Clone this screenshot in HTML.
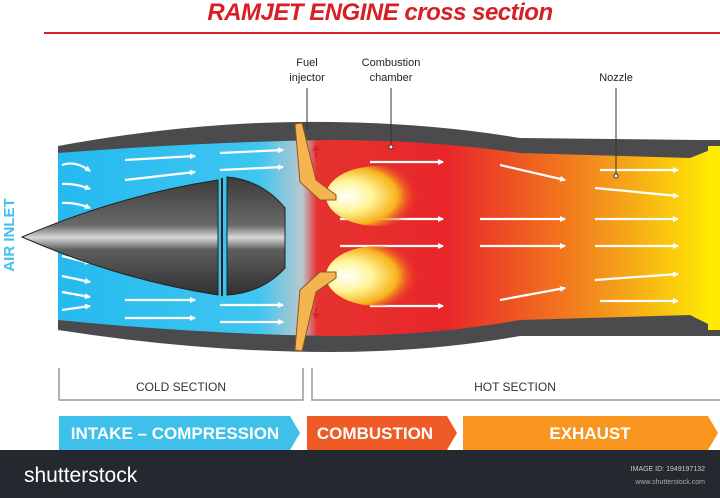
<!DOCTYPE html>
<html><head><meta charset="utf-8"><style>
html,body{margin:0;padding:0;background:#fff;}
svg{display:block;font-family:"Liberation Sans",sans-serif;}
</style></head><body>
<svg width="720" height="498" viewBox="0 0 720 498" xmlns="http://www.w3.org/2000/svg">
<defs>
<linearGradient id="flow" x1="0" x2="720" y1="0" y2="0" gradientUnits="userSpaceOnUse">
<stop offset="0" stop-color="#1eb6ef"/>
<stop offset="0.36" stop-color="#3ec6f0"/>
<stop offset="0.42" stop-color="#b9c8cf"/>
<stop offset="0.44" stop-color="#e6332f"/>
<stop offset="0.62" stop-color="#e8262a"/>
<stop offset="0.75" stop-color="#f0661f"/>
<stop offset="0.85" stop-color="#f49a1c"/>
<stop offset="1" stop-color="#fff200"/>
</linearGradient>
<linearGradient id="cone" x1="0" x2="0" y1="177" y2="298" gradientUnits="userSpaceOnUse">
<stop offset="0" stop-color="#3a3a3a"/>
<stop offset="0.4" stop-color="#6a6a6a"/>
<stop offset="0.5" stop-color="#d8d8d8"/>
<stop offset="0.6" stop-color="#5e5e5e"/>
<stop offset="1" stop-color="#2e2e2e"/>
</linearGradient>
<radialGradient id="flame" cx="0.2" cy="0.5" r="0.7">
<stop offset="0" stop-color="#fff"/>
<stop offset="0.35" stop-color="#fff59a"/>
<stop offset="0.7" stop-color="#f7b21e"/>
<stop offset="1" stop-color="#e8262a" stop-opacity="0"/>
</radialGradient>
<marker id="ah" markerWidth="6" markerHeight="6" refX="5" refY="3" orient="auto" markerUnits="userSpaceOnUse">
<path d="M0,0 L6,3 L0,6 Z" fill="#fff"/>
</marker>
</defs>
<text x="380" y="20" text-anchor="middle" font-size="24" font-weight="bold" font-style="italic" fill="#d71f26" letter-spacing="-0.5">RAMJET ENGINE cross section</text>
<line x1="44" y1="33" x2="720" y2="33" stroke="#d71f26" stroke-width="2"/>
<path d="M58,146 Q200,120 330,122 Q430,123 520,138 L700,140 L720,140 L720,336 L700,336 L520,336 Q430,352 330,352 Q200,352 58,330 Z" fill="#4b4b4d"/>
<path d="M58,153 Q200,142 330,140 Q430,140 520,153 L690,158 L720,146 L720,330 L690,315 L520,320 Q430,336 330,336 Q200,334 58,320 Z" fill="url(#flow)"/>
<rect x="708" y="146" width="12" height="184" fill="#ffea00"/>
<g stroke="#fff" stroke-width="2.2" fill="none" marker-end="url(#ah)">
<path d="M62,165 Q75,160 90,171"/><path d="M62,184 Q75,183 90,189"/><path d="M62,203 Q75,202 90,208"/>
<path d="M62,222 L90,227"/><path d="M62,238 L90,245"/><path d="M62,256 L90,263"/>
<path d="M62,276 L90,282"/><path d="M62,292 L90,297"/><path d="M62,310 L90,306"/>
<path d="M125,160 L195,156"/><path d="M125,180 L195,172"/><path d="M220,153 L283,150"/><path d="M220,170 L283,167"/>
<path d="M125,300 L195,300"/><path d="M125,318 L195,318"/><path d="M220,305 L283,305"/><path d="M220,322 L283,322"/>
<path d="M370,162 L443,162"/><path d="M340,219 L443,219"/><path d="M340,246 L443,246"/><path d="M370,306 L443,306"/>
<path d="M500,165 L565,180"/><path d="M480,219 L565,219"/><path d="M480,246 L565,246"/><path d="M500,300 L565,288"/>
<path d="M600,170 L678,170"/><path d="M595,188 L678,196"/><path d="M595,219 L678,219"/><path d="M595,246 L678,246"/><path d="M595,280 L678,274"/><path d="M600,301 L678,301"/>
</g>
<path d="M22,237 Q120,195 218,180 L218,295 Q120,280 22,237 Z" fill="url(#cone)" stroke="#222" stroke-width="1"/>
<path d="M227,177 Q262,180 285,208 L285,268 Q262,293 227,295 Z" fill="url(#cone)" stroke="#222" stroke-width="1"/>
<line x1="222" y1="178" x2="222" y2="296" stroke="#222" stroke-width="2"/>
<ellipse cx="378" cy="196" rx="52" ry="30" fill="url(#flame)"/>
<ellipse cx="378" cy="276" rx="52" ry="30" fill="url(#flame)"/>
<path d="M302,123 L316,180 L336,195 L336,200 L320,200 L300,182 L295,124 Z" fill="#f5b452" stroke="#8a5a1a" stroke-width="1"/>
<path d="M302,351 L316,292 L336,278 L336,272 L320,272 L300,290 L295,350 Z" fill="#f5b452" stroke="#8a5a1a" stroke-width="1"/>
<path d="M316,158 L316,148 M313,151 L316,146 L319,151" stroke="#d71f26" stroke-width="1.5" fill="none"/>
<path d="M316,308 L316,318 M313,313 L316,318 L319,313" stroke="#d71f26" stroke-width="1.5" fill="none"/>
<g font-size="11" fill="#222" text-anchor="middle">
<text x="307" y="66">Fuel</text><text x="307" y="81">injector</text>
<text x="391" y="66">Combustion</text><text x="391" y="81">chamber</text>
<text x="616" y="81">Nozzle</text>
</g>
<line x1="307" y1="88" x2="307" y2="130" stroke="#333"/>
<line x1="391" y1="88" x2="391" y2="147" stroke="#333"/><circle cx="391" cy="147" r="2" fill="#fff" stroke="#333"/>
<line x1="616" y1="88" x2="616" y2="176" stroke="#333"/><circle cx="616" cy="176" r="2" fill="#fff" stroke="#333"/>
<text transform="translate(14,235) rotate(-90)" text-anchor="middle" font-size="15" font-weight="bold" fill="#3ec0ee">AIR INLET</text>
<path d="M59,368 L59,400 L303,400 L303,368" stroke="#999" fill="none" stroke-width="1.5"/>
<path d="M312,368 L312,400 L720,400" stroke="#999" fill="none" stroke-width="1.5"/>
<text x="181" y="391" text-anchor="middle" font-size="12" fill="#333">COLD SECTION</text>
<text x="515" y="391" text-anchor="middle" font-size="12" fill="#333">HOT SECTION</text>
<path d="M59,416 L290,416 L300,433 L290,450 L59,450 Z" fill="#3ec0ea"/>
<path d="M307,416 L447,416 L457,433 L447,450 L307,450 Z" fill="#ef5b26"/>
<path d="M463,416 L708,416 L718,433 L708,450 L463,450 Z" fill="#f7951f"/>
<g font-size="17" font-weight="bold" fill="#fff" text-anchor="middle">
<text x="175" y="439">INTAKE – COMPRESSION</text>
<text x="375" y="439">COMBUSTION</text>
<text x="590" y="439">EXHAUST</text>
</g>
<rect x="0" y="450" width="720" height="48" fill="#25282f"/>
<text x="24" y="482" font-size="21" fill="#fff">shutterstock</text>
<text x="705" y="471" text-anchor="end" font-size="7" fill="#ccc">IMAGE ID: 1949197132</text>
<text x="705" y="484" text-anchor="end" font-size="7" fill="#aaa">www.shutterstock.com</text>
</svg>
</body></html>
